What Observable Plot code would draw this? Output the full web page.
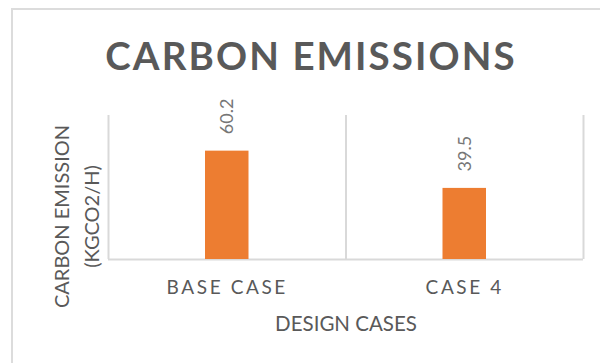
<!DOCTYPE html>
<html>
<head>
<meta charset="utf-8">
<script src="https://cdn.jsdelivr.net/npm/d3@7"></script>
<script src="https://cdn.jsdelivr.net/npm/@observablehq/plot@0.6"></script>
<style>
  html, body { margin: 0; padding: 0; background: #fff; }
  body { width: 600px; height: 363px; overflow: hidden; position: relative; font-family: Lato, sans-serif; }
  #border { position: absolute; left: 11px; top: 8px; width: 640px; height: 420px; border: 2px solid #dcdcdc; box-sizing: border-box; }
  #title { position: absolute; left: 11px; width: 600px; top: 36px; margin: 0; text-align: center;
           font: 700 38.5px/38.5px Lato, sans-serif; letter-spacing: 2.1px; color: #595959; }
  #chart { position: absolute; left: 0; top: 90px; }
  #chart g[aria-label="x-axis tick label"] text { letter-spacing: 2.6px; }
</style>
</head>
<body>
<div id="border"></div>
<h2 id="title">CARBON EMISSIONS</h2>
<div id="chart"></div>
<script>
// Emission per design case, in kg CO2 per hour
const categories = ["BASE CASE", "CASE 4"];
const emissions = [60.2, 39.5];
const yMax = 80;
const xTitle = "DESIGN CASES";
const yTitle = "CARBON EMISSION\n(KGCO2/H)";

const rows = categories.map((category, index) => ({ category, index, value: emissions[index] }));
const n = categories.length;

const chart = Plot.plot({
  width: 600,
  height: 273,
  marginLeft: 108,
  marginRight: 17,
  marginTop: 25,
  marginBottom: 104,
  style: { fontFamily: "Lato, sans-serif", color: "#595959", background: "transparent", overflow: "visible" },
  x: { domain: [0, n], axis: null },
  y: { domain: [0, yMax], axis: null },
  marks: [
    // category separators and baseline
    Plot.ruleX(d3.range(n + 1), { stroke: "#d9d9d9", strokeWidth: 2 }),
    Plot.ruleY([0], { stroke: "#d9d9d9", strokeWidth: 2 }),
    // bars
    Plot.rectY(rows, {
      x1: d => d.index, x2: d => d.index + 1, y: "value",
      fill: "#ED7D31", insetLeft: 97, insetRight: 97
    }),
    // value labels above bars
    Plot.text(rows, {
      x: d => d.index + 0.5, y: "value", text: d => d.value.toFixed(1),
      rotate: -90, textAnchor: "start", dy: -17, fontSize: 18, fill: "#767676"
    }),
    // category labels
    Plot.axisX({
      ticks: d3.range(n).map(i => i + 0.5),
      tickFormat: t => categories[Math.floor(t)],
      tickSize: 0, tickPadding: 21, fontSize: 19, label: null
    }),
    // axis titles
    Plot.text([xTitle], {
      frameAnchor: "bottom", textAnchor: "middle", lineAnchor: "middle",
      dy: 65.4, fontSize: 20.5, fill: "#595959"
    }),
    Plot.text([yTitle], {
      frameAnchor: "left", textAnchor: "middle", lineAnchor: "middle", rotate: -90,
      dx: -34, dy: 29, fontSize: 20, lineHeight: 1.5, fill: "#595959"
    })
  ]
});

document.getElementById("chart").append(chart);
</script>
</body>
</html>
